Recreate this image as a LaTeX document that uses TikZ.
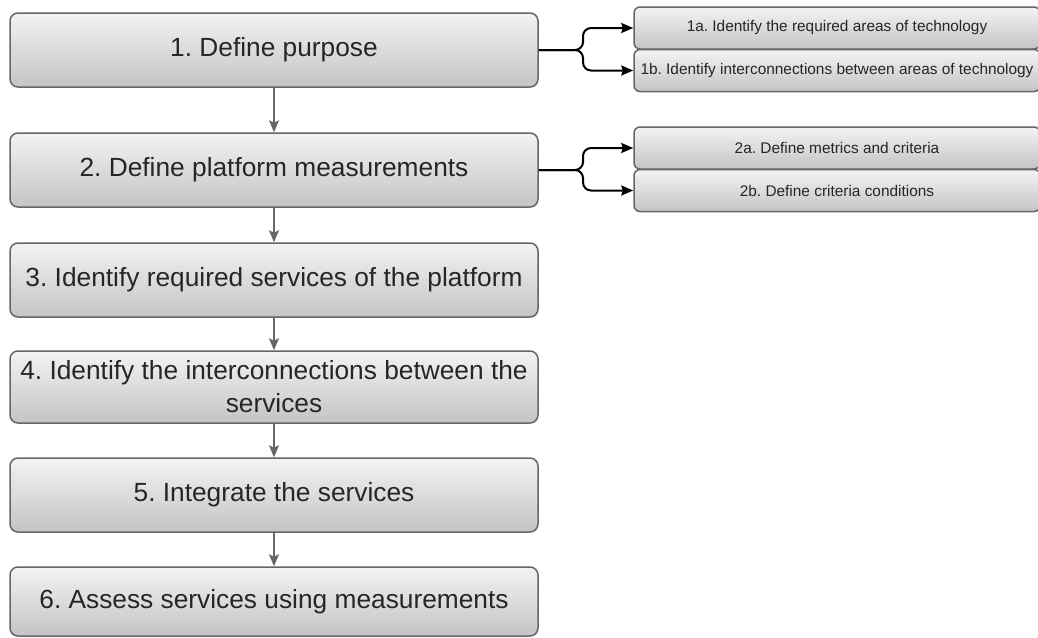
\documentclass[tikz,border=0pt]{standalone}
\usepackage{fontspec}
\setmainfont{Liberation Sans}
\usetikzlibrary{arrows.meta}
\frenchspacing

\definecolor{edgegray}{HTML}{666666}
\definecolor{filltop}{HTML}{F3F3F3}
\definecolor{fillbot}{HTML}{C4C4C4}

\tikzset{
  mainbox/.style={draw=edgegray, line width=1.5pt, rounded corners=8pt,
    top color=filltop, bottom color=fillbot,
    minimum width=528pt, minimum height=74pt, inner sep=0pt,
    align=center, text=black!85, font=\fontsize{26.3}{33}\selectfont},
  subbox/.style={draw=edgegray, line width=1.5pt, rounded corners=6pt,
    top color=filltop, bottom color=fillbot,
    minimum width=406pt, minimum height=42pt, inner sep=0pt,
    text=black!85, font=\fontsize{15.4}{18}\selectfont},
  flow/.style={draw=edgegray, line width=1.5pt,
    -{Stealth[length=12pt, width=10pt, inset=2.5pt]}},
  branch/.style={draw=black, line width=2pt, rounded corners=8pt,
    -{Stealth[length=12pt, width=10pt, inset=1.5pt]}}
}

\begin{document}
\begin{tikzpicture}[x=1pt, y=-1pt]
\useasboundingbox (0,0) rectangle (1038,637);

% main process steps
\node[mainbox] (b1) at (274,50) {1. Define purpose};
\node[mainbox] (b2) at (274,170) {2. Define platform measurements};
\node[mainbox] (b3) at (274,280) {3. Identify required services of the platform};
\node[mainbox, minimum height=72pt] (b4) at (274,387) {4. Identify the interconnections between the\\services};
\node[mainbox] (b5) at (274,495) {5. Integrate the services};
\node[mainbox, minimum height=69pt] (b6) at (274,601.5) {6. Assess services using measurements};

% sub-steps
\node[subbox] (s1a) at (837,28) {1a. Identify the required areas of technology};
\node[subbox] (s1b) at (837,70.5) {1b. Identify interconnections between areas of technology};
\node[subbox] (s2a) at (837,148) {2a. Define metrics and criteria};
\node[subbox] (s2b) at (837,190.5) {2b. Define criteria conditions};

% flow between the main steps
\draw[flow] (b1) -- (b2);
\draw[flow] (b2) -- (b3);
\draw[flow] (b3) -- (b4);
\draw[flow] (b4) -- (b5);
\draw[flow] (b5) -- (b6);

% branching connectors to the sub-steps
\draw[branch] (b1.east) -- (583,50) -- (583,28) -- (s1a.west);
\draw[branch] (b1.east) -- (583,50) -- (583,70.5) -- (s1b.west);
\draw[branch] (b2.east) -- (583,170) -- (583,148) -- (s2a.west);
\draw[branch] (b2.east) -- (583,170) -- (583,190.5) -- (s2b.west);
\end{tikzpicture}
\end{document}
